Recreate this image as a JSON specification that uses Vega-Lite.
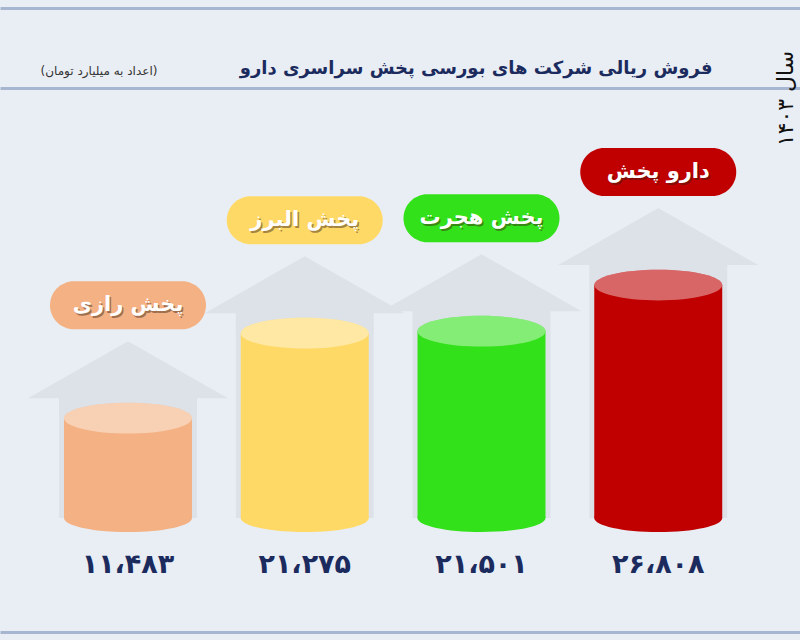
{
  "$schema": "https://vega.github.io/schema/vega-lite/v6.json",
  "width": 800,
  "height": 510,
  "autosize": {"type": "none"},
  "padding": {"left": 0, "right": 0, "top": 8, "bottom": 122},
  "background": "#e9eef4",
  "config": {"view": {"stroke": null}},
  "data": {
    "values": [
      {"company": "پخش رازی", "value": 11483, "label": "۱۱،۴۸۳"},
      {"company": "پخش البرز", "value": 21275, "label": "۲۱،۲۷۵"},
      {"company": "پخش هجرت", "value": 21501, "label": "۲۱،۵۰۱"},
      {"company": "دارو پخش", "value": 26808, "label": "۲۶،۸۰۸"}
    ]
  },
  "encoding": {
    "x": {
      "field": "company",
      "type": "nominal",
      "sort": null,
      "scale": {"paddingInner": 0, "paddingOuter": 0.263, "align": 0.426},
      "axis": null
    },
    "y": {
      "field": "value",
      "type": "quantitative",
      "scale": {"domain": [0, 58700]},
      "axis": null
    },
    "color": {
      "field": "company",
      "type": "nominal",
      "sort": null,
      "scale": {
        "domain": ["پخش رازی", "پخش البرز", "پخش هجرت", "دارو پخش"],
        "range": ["#f4b183", "#ffd966", "#33e11a", "#c00000"]
      },
      "legend": null
    }
  },
  "resolve": {"axis": {"x": "independent", "y": "independent"}},
  "layer": [
    {
      "mark": {"type": "bar", "width": {"band": 0.78}},
      "encoding": {
        "color": {"value": "#dde2e8"},
        "x": {
          "field": "company", "type": "nominal", "sort": null,
          "axis": {
            "orient": "top", "offset": 0, "labels": false, "ticks": false, "grid": false,
            "domain": true, "domainColor": "#a6b6d0", "domainWidth": 3,
            "title": "(اعداد به میلیارد تومان)",
            "titleX": 40, "titleY": 62, "titleAlign": "left", "titleBaseline": "middle", "titleAngle": 0,
            "titleFont": "DejaVu Sans", "titleFontSize": 12, "titleFontWeight": "normal", "titleColor": "#333333"
          }
        }
      }
    },
    {
      "mark": {"type": "point", "shape": "M-1,0L0,-0.57L1,0L0.69,0L0.69,0.21L-0.69,0.21L-0.69,0Z", "size": 40000, "filled": true, "opacity": 1, "yOffset": -20, "strokeWidth": 0},
      "encoding": {
        "color": {"value": "#dde2e8"},
        "x": {
          "field": "company", "type": "nominal", "sort": null,
          "axis": {
            "orient": "top", "offset": -80, "labels": false, "ticks": false, "grid": false,
            "domain": true, "domainColor": "#a6b6d0", "domainWidth": 3,
            "title": "فروش ریالی شرکت های بورسی پخش سراسری دارو",
            "titleX": 712, "titleY": -20, "titleAlign": "right", "titleBaseline": "middle", "titleAngle": 0,
            "titleFont": "DejaVu Sans", "titleFontSize": 18, "titleFontWeight": "bold", "titleColor": "#1c2b5e"
          }
        }
      }
    },
    {
      "mark": {"type": "point", "shape": "M-1,0A1,0.22,0,0,0,1,0A1,0.22,0,0,0,-1,0Z", "size": 16384, "filled": true, "opacity": 1, "strokeWidth": 0},
      "encoding": {"y": {"datum": 0}}
    },
    {
      "mark": {"type": "bar", "width": {"band": 0.724}}
    },
    {
      "mark": {"type": "point", "shape": "M-1,0A1,0.24,0,0,0,1,0A1,0.24,0,0,0,-1,0Z", "size": 16384, "filled": true, "opacity": 1, "strokeWidth": 0}
    },
    {
      "mark": {"type": "point", "shape": "M-1,0A1,0.24,0,0,0,1,0A1,0.24,0,0,0,-1,0Z", "size": 16384, "filled": true, "opacity": 0.4, "strokeWidth": 0},
      "encoding": {"color": {"value": "white"}}
    },
    {
      "mark": {"type": "point", "shape": "M-0.6923,-0.3077L0.6923,-0.3077A0.3077,0.3077,0,0,1,0.6923,0.3077L-0.6923,0.3077A0.3077,0.3077,0,0,1,-0.6923,-0.3077Z", "size": 24336, "filled": true, "opacity": 1, "strokeWidth": 0, "yOffset": -113}
    },
    {
      "mark": {"type": "text", "font": "DejaVu Sans", "fontWeight": "bold", "fontSize": 21, "baseline": "middle", "align": "center", "yOffset": -111, "dx": 1.5, "opacity": 0.45},
      "encoding": {"text": {"field": "company"}, "color": {"value": "#3a2010"}}
    },
    {
      "mark": {"type": "text", "font": "DejaVu Sans", "fontWeight": "bold", "fontSize": 21, "baseline": "middle", "align": "center", "yOffset": -113},
      "encoding": {"text": {"field": "company"}, "color": {"value": "#ffffff"}}
    },
    {
      "mark": {"type": "text", "font": "DejaVu Sans", "fontWeight": "bold", "fontSize": 27, "baseline": "middle", "align": "center", "yOffset": 47},
      "encoding": {
        "text": {"field": "label"},
        "color": {"value": "#1c2b5e"},
        "x": {
          "field": "company", "type": "nominal", "sort": null,
          "axis": {
            "orient": "bottom", "offset": 114, "labels": false, "ticks": false, "grid": false,
            "domain": true, "domainColor": "#a6b6d0", "domainWidth": 3, "title": null
          }
        },
        "y": {
          "datum": 0, "type": "quantitative",
          "axis": {
            "orient": "right", "offset": -15, "labels": false, "ticks": false, "grid": false, "domain": false,
            "title": "سال ۱۴۰۳",
            "titleX": 0, "titleY": 90, "titleAngle": 270, "titleAlign": "center", "titleBaseline": "middle",
            "titleFont": "DejaVu Sans", "titleFontSize": 22, "titleFontWeight": "normal", "titleColor": "#111111"
          }
        }
      }
    }
  ]
}
